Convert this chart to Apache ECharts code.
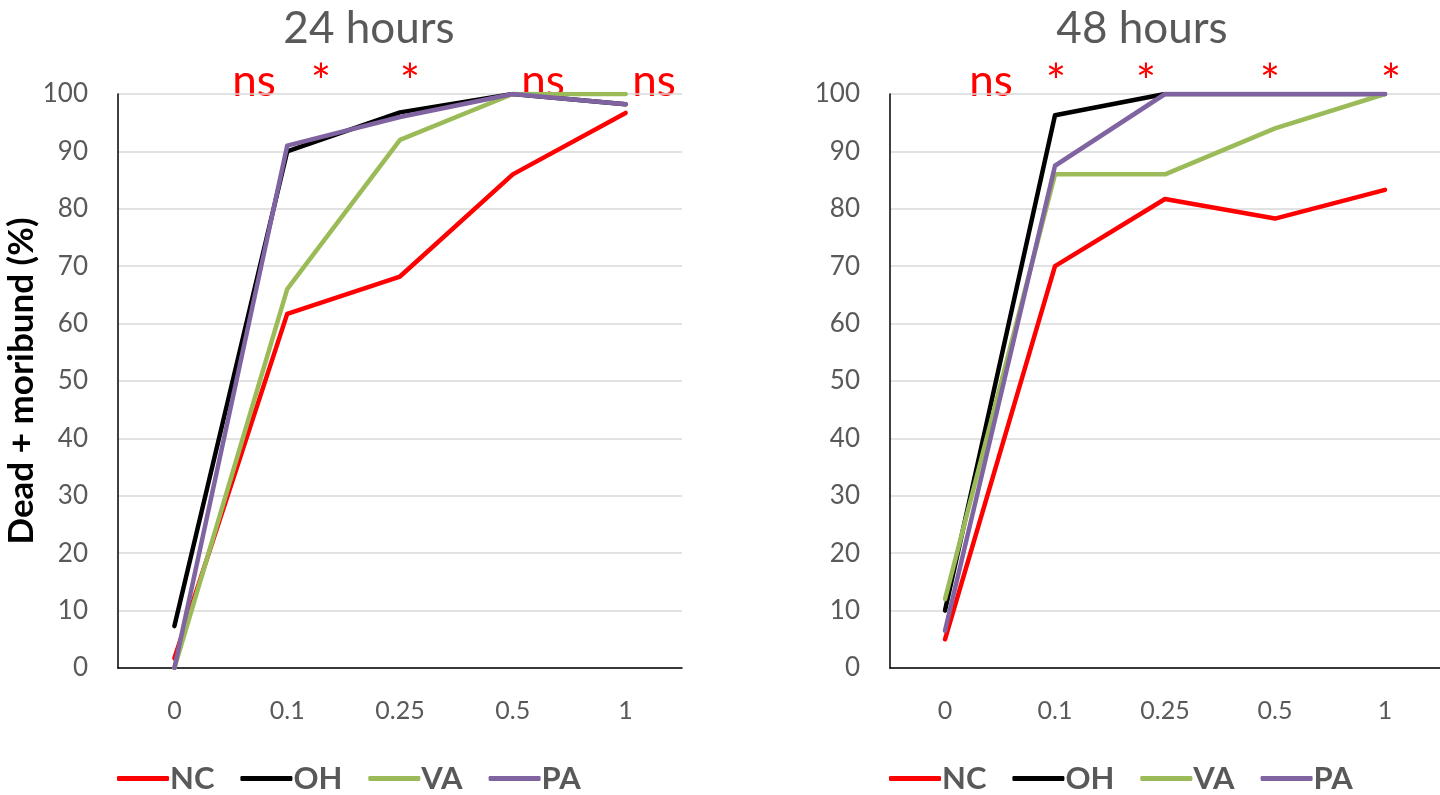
<!DOCTYPE html>
<html><head><meta charset="utf-8">
<script src="https://cdn.jsdelivr.net/npm/echarts@6/dist/echarts.min.js"></script>
<style>html,body{margin:0;padding:0;background:#fff}#c{width:1440px;height:795px}</style>
</head><body><div id="c"></div>
<script>
const categories = ['0', '0.1', '0.25', '0.5', '1'];
const yTicks = [0, 100, 10];
const seriesNames = ['NC', 'OH', 'VA', 'PA'];
const colors = ['#ff0000', '#000000', '#9bbb59', '#8064a2'];
// 24 hours
const nc24 = [1.7, 61.7, 68.2, 86.0, 96.7];
const oh24 = [7.3, 90.0, 96.8, 100, 98.2];
const va24 = [0, 66.0, 92.0, 100, 100];
const pa24 = [0, 91.0, 96.0, 100, 98.2];
// 48 hours
const nc48 = [5.0, 70.0, 81.7, 78.3, 83.3];
const oh48 = [10.0, 96.3, 100, 100, 100];
const va48 = [12.0, 86.0, 86.0, 94.0, 100];
const pa48 = [6.5, 87.5, 100, 100, 100];
const titles = ['24 hours', '48 hours'];
const annot24 = ['ns', '*', '*', 'ns', 'ns'];
const annot48 = ['ns', '*', '*', '*', '*'];

const font = 'Lato, "Open Sans", sans-serif';
const gray = '#595959';
const chart = echarts.init(document.getElementById('c'));

const grids = [
  {left: 118, top: 94, width: 564, height: 574},
  {left: 890, top: 94, width: 564, height: 574}
];
function xAxis(i){return {type:'category', gridIndex:i, data:categories, boundaryGap:true,
  axisTick:{show:false}, axisLine:{lineStyle:{color:'#000', width:1.5}},
  axisLabel:{color:gray, fontSize:25, fontFamily:font, margin:30}};}
function yAxis(i){return {type:'value', gridIndex:i, min:yTicks[0], max:yTicks[1], interval:yTicks[2],
  axisLine:{show:true, lineStyle:{color:'#000', width:1.5}}, axisTick:{show:false},
  splitLine:{lineStyle:{color:'#d9d9d9', width:1.5}},
  axisLabel:{color:gray, fontSize:26, fontFamily:font, margin:30},
  name: i===0 ? 'Dead + moribund (%)' : '', nameLocation:'middle', nameGap:66, nameRotate:90,
  nameTextStyle:{color:'#000', fontSize:35, fontWeight:'bold', fontFamily:font}};}
const sets = [[nc24, oh24, va24, pa24],[nc48, oh48, va48, pa48]];
const series = [];
sets.forEach((s, gi) => s.forEach((d, k) => series.push({
  type:'line', name:seriesNames[k], xAxisIndex:gi, yAxisIndex:gi, data:d,
  showSymbol:false, symbol:'none', lineStyle:{color:colors[k], width:4.5, cap:'round', join:'round'},
  itemStyle:{color:colors[k]}, z: 2 + k, animation:false
})));
const legendBase = {data:seriesNames, top:758, itemWidth:52, itemHeight:5, icon:'roundRect', itemGap:26,
  textStyle:{color:gray, fontSize:31, fontWeight:'bold', fontFamily:font, padding:[0,0,0,-4]}};
const annPos24 = [[254,82],[321,84],[410,84],[543,82],[654,82]];
const annPos48 = [[991,82],[1056,84],[1146,84],[1270,84],[1391,84]];
const graphic = [];
[[annot24, annPos24],[annot48, annPos48]].forEach(([txt,pos]) => txt.forEach((t,i)=>graphic.push({
  type:'text', x:pos[i][0], y:pos[i][1], style:{text:t, fill:'#ff0000', fontSize:t==='ns'?44:48,
  fontFamily:font, align:'center', verticalAlign:'middle'}})));
chart.setOption({
  animation:false,
  title: titles.map((t,i)=>({text:t, left: i===0?364:1137, top:2, textAlign:'center',
    textStyle:{color:gray, fontSize:44, fontWeight:'normal', fontFamily:font}})),
  grid: grids,
  xAxis: [xAxis(0), xAxis(1)],
  yAxis: [yAxis(0), yAxis(1)],
  legend: [Object.assign({left:112}, legendBase), Object.assign({left:884}, legendBase)],
  series: series,
  graphic: graphic
});
</script></body></html>
